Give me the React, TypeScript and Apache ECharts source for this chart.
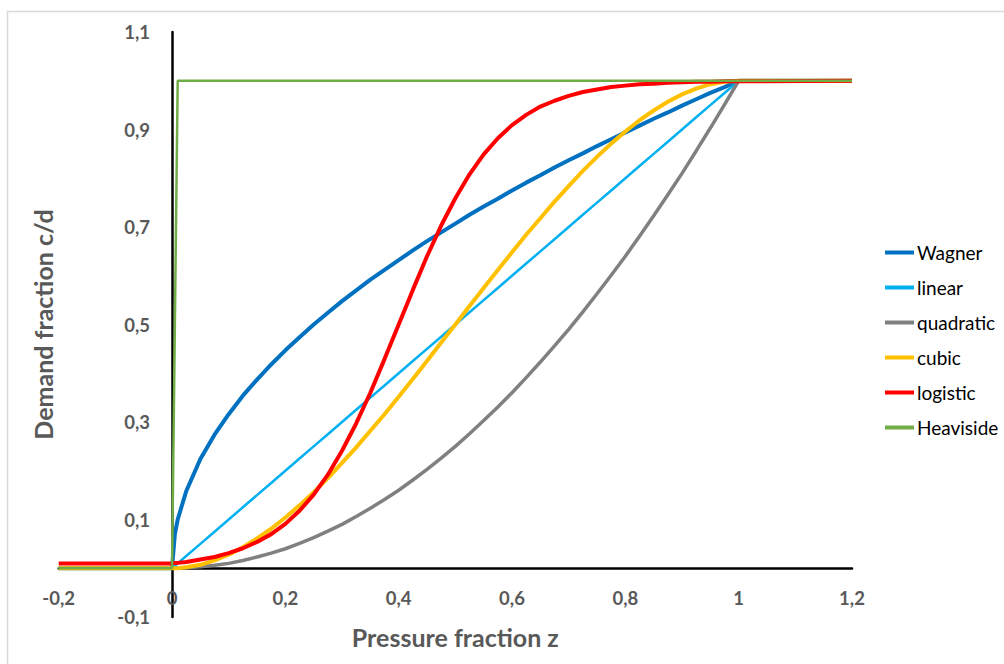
import React, { useEffect, useRef } from "react";
import * as echarts from "echarts";

const zValues = [
  -0.2, 0, 0.005, 0.01, 0.025, 0.05, 0.075, 0.1, 0.125, 0.15, 0.175, 0.2, 0.225, 0.25, 0.275, 0.3, 0.325, 0.35,
  0.375, 0.4, 0.425, 0.45, 0.475, 0.5, 0.525, 0.55, 0.575, 0.6, 0.625, 0.65, 0.675, 0.7, 0.725, 0.75, 0.775,
  0.8, 0.825, 0.85, 0.875, 0.9, 0.925, 0.95, 0.975, 1, 1.2,
];

const wagner = [
  0, 0, 0.07, 0.1, 0.158, 0.224, 0.274, 0.316, 0.354, 0.387, 0.418, 0.447, 0.474, 0.5, 0.524, 0.548, 0.57,
  0.592, 0.612, 0.632, 0.652, 0.671, 0.689, 0.707, 0.725, 0.742, 0.758, 0.775, 0.791, 0.806, 0.822, 0.837,
  0.851, 0.866, 0.88, 0.894, 0.908, 0.922, 0.935, 0.949, 0.962, 0.975, 0.987, 1, 1,
];

const linear = [
  0, 0, 0.005, 0.01, 0.025, 0.05, 0.075, 0.1, 0.125, 0.15, 0.175, 0.2, 0.225, 0.25, 0.275, 0.3, 0.325, 0.35,
  0.375, 0.4, 0.425, 0.45, 0.475, 0.5, 0.525, 0.55, 0.575, 0.6, 0.625, 0.65, 0.675, 0.7, 0.725, 0.75, 0.775,
  0.8, 0.825, 0.85, 0.875, 0.9, 0.925, 0.95, 0.975, 1, 1,
];

const quadratic = [
  0, 0, 0, 0, 0.001, 0.003, 0.006, 0.01, 0.016, 0.023, 0.031, 0.04, 0.051, 0.063, 0.076, 0.09, 0.106, 0.123,
  0.141, 0.16, 0.181, 0.203, 0.226, 0.25, 0.276, 0.303, 0.331, 0.36, 0.391, 0.423, 0.456, 0.49, 0.526, 0.563,
  0.601, 0.64, 0.681, 0.723, 0.766, 0.81, 0.856, 0.903, 0.951, 1, 1,
];

const cubic = [
  0, 0, 0, 0, 0.002, 0.007, 0.016, 0.028, 0.043, 0.061, 0.081, 0.104, 0.129, 0.156, 0.185, 0.216, 0.248,
  0.282, 0.316, 0.352, 0.388, 0.425, 0.463, 0.5, 0.538, 0.575, 0.612, 0.648, 0.684, 0.718, 0.752, 0.784,
  0.815, 0.844, 0.871, 0.896, 0.919, 0.939, 0.957, 0.972, 0.984, 0.993, 0.998, 1, 1,
];

const logistic = [
  0.01, 0.01, 0.011, 0.011, 0.013, 0.018, 0.023, 0.031, 0.041, 0.054, 0.07, 0.091, 0.118, 0.151, 0.192,
  0.241, 0.297, 0.36, 0.429, 0.5, 0.571, 0.64, 0.703, 0.759, 0.808, 0.849, 0.882, 0.909, 0.93, 0.947, 0.959,
  0.969, 0.977, 0.982, 0.987, 0.99, 0.993, 0.994, 0.996, 0.997, 0.998, 0.998, 0.999, 0.999, 1,
];

const heaviside = [
  0, 0, 0.5, 1, 1, 1, 1, 1, 1, 1, 1, 1, 1, 1, 1, 1, 1, 1, 1, 1, 1, 1, 1, 1, 1, 1, 1, 1, 1, 1, 1, 1, 1, 1, 1,
  1, 1, 1, 1, 1, 1, 1, 1, 1, 1,
];

const seriesNames = ["Wagner", "linear", "quadratic", "cubic", "logistic", "Heaviside"];
const seriesValues = [wagner, linear, quadratic, cubic, logistic, heaviside];
const seriesColors = ["#0070C0", "#00B0F0", "#808080", "#FFC000", "#FF0000", "#70AD47"];
const seriesWidths = [4, 2.5, 3.5, 4, 4, 2.5];

const fmt = (v: number) => String(Math.round(v * 10) / 10).replace(".", ",");

export default function App() {
  const ref = useRef<HTMLDivElement>(null);
  useEffect(() => {
    document.body.style.margin = "0";
    const chart = echarts.init(ref.current!, null, { renderer: "svg" });
    const font = "Lato, 'Open Sans', sans-serif";
    chart.setOption({
      animation: false,
      backgroundColor: "#ffffff",
      graphic: [
        {
          type: "rect",
          shape: { x: 7.5, y: 11.5, width: 1010, height: 670 },
          style: { fill: "none", stroke: "#d9d9d9", lineWidth: 1.5 },
          silent: true,
        },
      ],
      grid: { left: 58.7, right: 152, top: 32, bottom: 47, containLabel: false, outerBoundsMode: "none" },
      legend: {
        orient: "vertical",
        left: 885,
        top: 243,
        padding: 0,
        itemWidth: 29,
        itemHeight: 4,
        itemGap: 16,
        icon: "rect",
        data: seriesNames.map((name) => ({ name, icon: "rect" })),
        textStyle: { fontFamily: font, fontSize: 19, color: "#000000", padding: [0, 0, 0, -2] },
      },
      xAxis: {
        type: "value",
        min: -0.2,
        max: 1.2,
        interval: 0.2,
        offset: -48.7,
        name: "Pressure fraction z",
        nameLocation: "middle",
        nameGap: 56,
        nameMoveOverlap: false,
        nameTextStyle: { fontFamily: font, fontSize: 25, fontWeight: "bold", color: "#595959" },
        axisLine: { onZero: false, lineStyle: { color: "#000000", width: 2.5 } },
        axisTick: { show: false },
        splitLine: { show: false },
        axisLabel: {
          formatter: fmt,
          margin: 20,
          fontFamily: font,
          fontSize: 18.5,
          fontWeight: "bold",
          color: "#595959",
        },
      },
      yAxis: {
        type: "value",
        min: -0.1,
        max: 1.1,
        interval: 0.2,
        offset: -113.3,
        name: "Demand fraction c/d",
        nameLocation: "middle",
        nameGap: 117,
        nameMoveOverlap: false,
        nameTextStyle: { fontFamily: font, fontSize: 25, fontWeight: "bold", color: "#595959" },
        axisLine: { onZero: false, lineStyle: { color: "#000000", width: 2.5 } },
        axisTick: { show: false },
        splitLine: { show: false },
        axisLabel: {
          formatter: fmt,
          margin: 22,
          fontFamily: font,
          fontSize: 18.5,
          fontWeight: "bold",
          color: "#595959",
        },
      },
      series: seriesNames.map((name, i) => ({
        name,
        type: "line",
        symbol: "none",
        smooth: false,
        data: zValues.map((z, j) => [z, seriesValues[i][j]]),
        lineStyle: { color: seriesColors[i], width: seriesWidths[i] },
        itemStyle: { color: seriesColors[i] },
        z: 2 + i,
      })),
    });
    return () => chart.dispose();
  }, []);
  return <div ref={ref} style={{ width: 1004, height: 664 }} />;
}
